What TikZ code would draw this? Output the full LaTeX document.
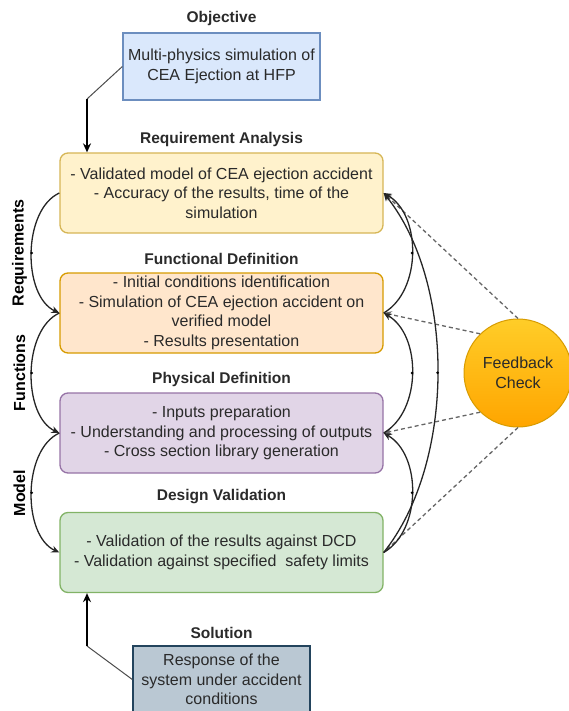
\documentclass[tikz,border=0pt]{standalone}
\usepackage{fontspec}
\setmainfont{Liberation Sans}
\usetikzlibrary{arrows.meta,shadings}
\definecolor{objfill}{HTML}{DAE8FC}\definecolor{objline}{HTML}{6C8EBF}
\definecolor{reqfill}{HTML}{FFF2CC}\definecolor{reqline}{HTML}{D6B656}
\definecolor{funfill}{HTML}{FFE6CC}\definecolor{funline}{HTML}{D79B00}
\definecolor{phyfill}{HTML}{E1D5E7}\definecolor{phyline}{HTML}{9673A6}
\definecolor{desfill}{HTML}{D5E8D4}\definecolor{desline}{HTML}{82B366}
\definecolor{solfill}{HTML}{BAC8D3}\definecolor{solline}{HTML}{23445D}
\definecolor{fbtop}{HTML}{FFCD28}\definecolor{fbbot}{HTML}{FFA500}
\definecolor{txt}{HTML}{2A2A2A}
\tikzset{
  bodyfont/.style={font=\fontsize{16}{19.5}\selectfont},
  stagebox/.style={rectangle, rounded corners=8pt, minimum width=323pt, minimum height=80pt,
    line width=1.3pt, align=center, inner sep=0pt, text=txt, bodyfont},
  endbox/.style={rectangle, line width=1.3pt, align=center, inner sep=0pt, text=txt, bodyfont},
  titlelbl/.style={font=\fontsize{15.5}{18}\selectfont\bfseries, text=txt, inner sep=0pt},
  sidelbl/.style={font=\fontsize{16}{18}\selectfont\bfseries, rotate=90, inner sep=0pt, text=black},
  mainarrow/.style={line width=2pt, -{Stealth[length=9pt,width=8pt]}},
  feedarc/.style={line width=1.3pt, black!85, -{Stealth[length=8pt,width=7pt]}},
  feeddash/.style={line width=1.3pt, black!60, dash pattern=on 4pt off 3pt},
  middot/.style={circle, fill=black, inner sep=0pt, minimum size=3pt}
}
\begin{document}
\begin{tikzpicture}[x=1pt,y=-1pt]
\useasboundingbox (0,0) rectangle (569,711);

% titles
\node[titlelbl] (tobj) at (221.5,18) {Objective};
\node[titlelbl] (treq) at (221.5,139) {Requirement Analysis};
\node[titlelbl] (tfun) at (221.5,259) {Functional Definition};
\node[titlelbl] (tphy) at (221.5,379) {Physical Definition};
\node[titlelbl] (tdes) at (221.5,497) {Design Validation};
\node[titlelbl] (tsol) at (221.5,633) {Solution};

% boxes
\node[endbox, fill=objfill, draw=objline, minimum width=197pt, minimum height=67pt] (obj) at (221.5,66.5)
  {Multi-physics simulation of\\CEA Ejection at HFP};
\node[stagebox, fill=reqfill, draw=reqline] (req) at (221.5,193)
  {- Validated model of CEA ejection accident\\- Accuracy of the results, time of the\\simulation};
\node[stagebox, fill=funfill, draw=funline] (fun) at (221.5,313)
  {- Initial conditions identification\\- Simulation of CEA ejection accident on\\verified model\\- Results presentation};
\node[stagebox, fill=phyfill, draw=phyline] (phy) at (221.5,433)
  {- Inputs preparation\\- Understanding and processing of outputs\\- Cross section library generation};
\node[stagebox, fill=desfill, draw=desline] (des) at (221.5,552.5)
  {- Validation of the results against DCD\\- Validation against specified\ \ safety limits};
\node[endbox, fill=solfill, draw=solline, minimum width=177pt, minimum height=67pt] (sol) at (221.5,679.5)
  {Response of the\\system under accident\\conditions};

% feedback circle
\node[circle, minimum size=108pt, inner sep=0pt, top color=fbtop, bottom color=fbbot, draw=funline,
  line width=1pt, align=center, text=txt, font=\fontsize{16}{20}\selectfont] (fb) at (518,373)
  {Feedback\\Check};

% side labels
\node[sidelbl] (lreq) at (19.5,253) {Requirements};
\node[sidelbl] (lfun) at (19.5,373) {Functions};
\node[sidelbl] (lmod) at (19.5,493) {Model};

% objective / solution arrows
\coordinate (k1) at (87,99);
\draw[line width=1pt, black!70] (obj.west) -- (k1);
\draw[mainarrow] (k1) -- (k1 |- req.north);
\coordinate (k2) at (87,646);
\draw[line width=1pt, black!70] (sol.west) -- (k2);
\draw[mainarrow] (k2) -- (k2 |- des.south);

% left arcs
\draw[feedarc] (req.west) .. controls +(-37,17) and +(-37,-17) .. node[pos=0.5, middot] (d1) {} (fun.west);
\draw[feedarc] (fun.west) .. controls +(-37,17) and +(-37,-17) .. node[pos=0.5, middot] (d2) {} (phy.west);
\draw[feedarc] (phy.west) .. controls +(-37,17) and +(-37,-17) .. node[pos=0.5, middot] (d3) {} (des.west);

% dashed feedback lines
\draw[feeddash, -{Stealth[length=8pt,width=7pt]}] (fb.90) -- (req.east);
\draw[feeddash, -{Stealth[length=8pt,width=7pt]}] (fb.134) -- (fun.east);
\draw[feeddash, -{Stealth[length=8pt,width=7pt]}] (fb.226) -- (phy.east);
\draw[feeddash] (fb.270) -- (des.east);

% right arcs
\draw[feedarc] (des.east) .. controls +(38,-22) and +(38,22) .. node[pos=0.5, middot] (d4) {} (phy.east);
\draw[feedarc] (phy.east) .. controls +(38,-22) and +(38,22) .. node[pos=0.5, middot] (d5) {} (fun.east);
\draw[feedarc] (fun.east) .. controls +(38,-22) and +(38,22) .. node[pos=0.5, middot] (d6) {} (req.east);
\draw[feedarc] (des.east) .. controls +(72,-90) and +(72,90) .. node[pos=0.5, middot] (d7) {} (req.east);
\end{tikzpicture}
\end{document}
